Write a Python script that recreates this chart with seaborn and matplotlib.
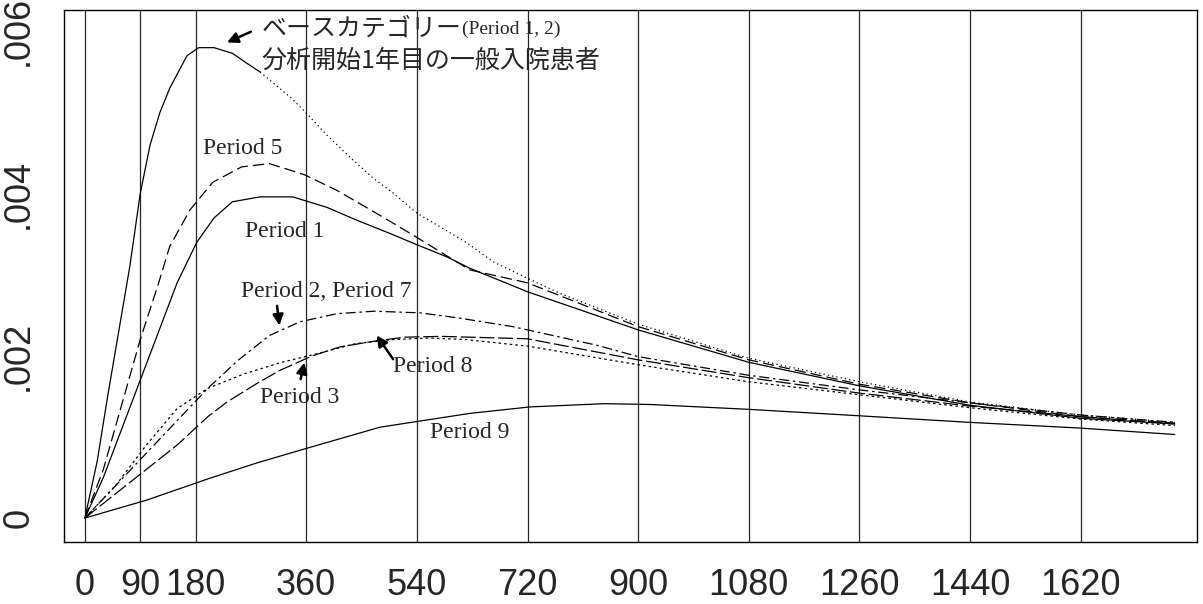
import matplotlib
matplotlib.use("Agg")
import matplotlib.pyplot as plt
import seaborn as sns

# hazard curves (days since start, hazard)
base_days = [0, 20, 37, 55, 73, 90, 106, 122, 138, 152, 166, 185, 210, 240, 265, 285]
base_vals = [0, 0.0007, 0.0015, 0.0023, 0.0031, 0.0040, 0.0046, 0.0050, 0.0053, 0.0055,
             0.0057, 0.0058, 0.0058, 0.00573, 0.0056, 0.0055]
base_tail_days = [285, 337, 358, 394, 431, 469, 501, 540, 578, 622, 664, 719, 773, 900,
                  1080, 1260, 1440, 1620, 1773]
base_tail_vals = [0.0055, 0.00517, 0.00501, 0.00472, 0.00445, 0.00419, 0.00401, 0.00376,
                  0.00359, 0.00339, 0.00316, 0.00296, 0.00277, 0.00239, 0.00197, 0.00168,
                  0.00143, 0.00127, 0.00118]

p5_days = [0, 30, 60, 90, 120, 138, 171, 208, 255, 300, 338, 358, 410, 485, 540, 626, 720,
           900, 1080, 1260, 1440, 1620, 1773]
p5_vals = [0, 0.0006, 0.0014, 0.0022, 0.0029, 0.00335, 0.0038, 0.00414, 0.00433, 0.00437,
           0.00428, 0.00423, 0.00404, 0.00371, 0.00346, 0.00306, 0.0029, 0.00236, 0.00195,
           0.00165, 0.00142, 0.00125, 0.00117]

p1_days = [0, 30, 60, 90, 120, 150, 182, 210, 240, 285, 338, 394, 443, 496, 540, 589, 626,
           720, 900, 1080, 1260, 1440, 1620, 1773]
p1_vals = [0, 0.0005, 0.0011, 0.0017, 0.0023, 0.0029, 0.0034, 0.0037, 0.0039, 0.00396,
           0.00396, 0.00383, 0.00367, 0.00351, 0.00337, 0.00322, 0.00308, 0.00279, 0.00232,
           0.00192, 0.00163, 0.00139, 0.00123, 0.00116]

p27_days = [0, 50, 100, 150, 200, 250, 300, 350, 410, 470, 545, 605, 696, 833, 900, 1080,
            1260, 1440, 1620, 1773]
p27_vals = [0, 0.0004, 0.0008, 0.0012, 0.0016, 0.00195, 0.00225, 0.00242, 0.00252, 0.00255,
            0.00253, 0.00247, 0.00236, 0.00213, 0.00199, 0.00176, 0.00158, 0.00142, 0.00127,
            0.00118]

p3_days = [0, 50, 100, 150, 200, 260, 320, 380, 440, 500, 560, 620, 720, 900, 1080, 1260,
           1440, 1620, 1773]
p3_vals = [0, 0.0004, 0.0009, 0.00135, 0.0016, 0.00178, 0.00192, 0.00203, 0.00215, 0.0022,
           0.00222, 0.0022, 0.00212, 0.00189, 0.00168, 0.00152, 0.00136, 0.00122, 0.00114]

p8_days = [0, 50, 100, 150, 200, 231, 280, 317, 370, 415, 470, 520, 580, 720, 900, 1080,
           1260, 1440, 1620, 1773]
p8_vals = [0, 0.0003, 0.0006, 0.0009, 0.00125, 0.00143, 0.00166, 0.00182, 0.002, 0.00211,
           0.00218, 0.00223, 0.00224, 0.00221, 0.00195, 0.00173, 0.00154, 0.00138, 0.00125,
           0.00116]

p9_days = [0, 100, 203, 280, 361, 480, 626, 724, 845, 919, 1080, 1261, 1438, 1617, 1773]
p9_vals = [0, 0.00022, 0.00049, 0.00068, 0.00086, 0.00112, 0.00129, 0.00137, 0.00141, 0.0014,
           0.00134, 0.00126, 0.00118, 0.00111, 0.00103]

x_ticks = [0, 90, 180, 360, 540, 720, 900, 1080, 1260, 1440, 1620]
y_ticks = [0, 0.002, 0.004, 0.006]
y_labels = ["0", ".002", ".004", ".006"]

# 1. figure setup
sns.set_style("white")
plt.rcParams["font.family"] = ["Liberation Sans", "DejaVu Sans"]
fig = plt.figure(figsize=(12.03, 6.04), dpi=100)
ax = fig.add_axes([0.0532, 0.1026, 0.9418, 0.8808])

# 2. vertical grid lines at each tick
for t in x_ticks:
    ax.axvline(t, color="0.15", lw=0.9, zorder=0)

# 3. the curves
series = [
    (base_days, base_vals, "-"),
    (base_tail_days, base_tail_vals, (0, (1, 2.5))),
    (p5_days, p5_vals, (0, (9, 4))),
    (p1_days, p1_vals, "-"),
    (p27_days, p27_vals, (0, (8, 3, 2, 3))),
    (p3_days, p3_vals, (0, (2, 2.5))),
    (p8_days, p8_vals, (0, (12, 3))),
    (p9_days, p9_vals, "-"),
]
for d, v, ls in series:
    sns.lineplot(x=d, y=v, ax=ax, color="black", lw=0.9, linestyle=ls,
                 sort=False, estimator=None)

# 4. axes
ax.set_xlim(-34, 1809)
ax.set_ylim(-0.000296, 0.006264)
ax.set_xticks(x_ticks)
ax.set_xticklabels([str(t) for t in x_ticks], fontsize=26)
ax.set_yticks(y_ticks)
ax.set_yticklabels(y_labels, fontsize=26, rotation=90, va="center")
ax.tick_params(axis="both", direction="out", length=10, width=1, color="black")
ax.tick_params(axis="x", pad=9)
ax.tick_params(axis="y", pad=10)
for s in ax.spines.values():
    s.set_visible(True)
    s.set_color("black")
    s.set_linewidth(1.0)

# 5. annotations
jp = ["Noto Sans CJK JP", "DejaVu Sans"]
serif = ["Liberation Serif", "DejaVu Serif"]
ax.text(287, 0.00603, "ベースカテゴリー", family=jp, fontsize=18, va="center", ha="left")
ax.text(614, 0.00602, "(Period 1, 2)", family=serif, fontsize=14, va="center", ha="left")
ax.text(287, 0.00564, "分析開始1年目の一般入院患者", family=jp, fontsize=18, va="center", ha="left")

arrow = dict(arrowstyle="-|>", color="black", lw=1.8, mutation_scale=16)
ax.annotate("", xy=(227, 0.00585), xytext=(274, 0.00601), arrowprops=arrow)
ax.annotate("", xy=(317, 0.00234), xytext=(312, 0.00265), arrowprops=arrow)
ax.annotate("", xy=(472, 0.00228), xytext=(504, 0.00193), arrowprops=arrow)
ax.annotate("", xy=(358, 0.00195), xytext=(350, 0.00168), arrowprops=arrow)

lab_kw = dict(family=serif, fontsize=17, va="center", ha="left")
ax.text(192, 0.00456, "Period 5", **lab_kw)
ax.text(260, 0.00353, "Period 1", **lab_kw)
ax.text(254, 0.00279, "Period 2, Period 7", **lab_kw)
ax.text(501, 0.00187, "Period 8", **lab_kw)
ax.text(285, 0.00148, "Period 3", **lab_kw)
ax.text(561, 0.00105, "Period 9", **lab_kw)

fig.savefig("out.png", dpi=100)
